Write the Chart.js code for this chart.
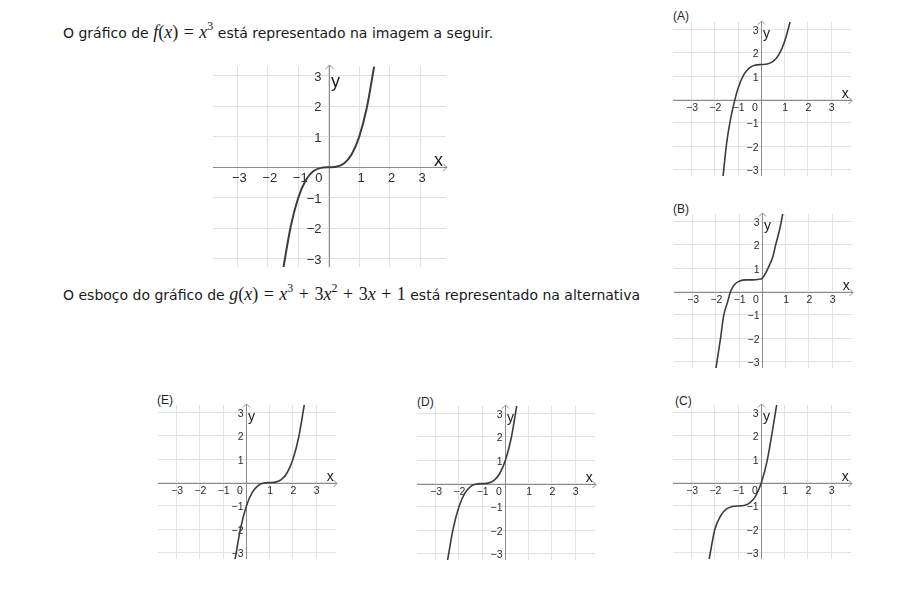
<!DOCTYPE html>
<html>
<head>
<meta charset="utf-8">
<script src="https://cdn.jsdelivr.net/npm/chart.js@4.4.1/dist/chart.umd.min.js"></script>
<style>
  body { margin: 0; width: 900px; height: 600px; background: #fff; position: relative; overflow: hidden;
         font-family: "DejaVu Sans", Verdana, sans-serif; color: #1a1a1a; }
  .txt { position: absolute; left: 63px; font-size: 14px; line-height: 18px; white-space: nowrap; }
  .m { font-family: "Liberation Serif", "DejaVu Serif", serif; font-size: 18px; }
  .m i { font-style: italic; }
  .op { margin: 0 1px; }
  sup { font-size: 12px; vertical-align: 0; position: relative; top: -8px; }
  .lbl { position: absolute; font-family: "Liberation Sans", Arial, sans-serif; font-size: 12px; line-height: 14px; color: #1c2333; }
  .panel { position: absolute; }
</style>
</head>
<body>
<div class="txt" style="top:23px">O gráfico de <span class="m"><i>f</i>(<i>x</i>) <span class="op">=</span> <i>x</i><sup>3</sup></span> está representado na imagem a seguir.</div>
<div class="txt" style="top:285px">O esboço do gráfico de <span class="m"><i>g</i>(<i>x</i>) <span class="op">=</span> <i>x</i><sup>3</sup> <span class="op">+</span> 3<i>x</i><sup>2</sup> <span class="op">+</span> 3<i>x</i> <span class="op">+</span> 1</span> está representado na alternativa</div>

<div class="lbl" style="left:673px;top:9px">(A)</div>
<div class="lbl" style="left:673px;top:202px">(B)</div>
<div class="lbl" style="left:675px;top:394px">(C)</div>
<div class="lbl" style="left:417px;top:395px">(D)</div>
<div class="lbl" style="left:157px;top:393px">(E)</div>

<script>
// eixos e rótulos comuns a todos os gráficos
const xTicks = [-3, -2, -1, 0, 1, 2, 3];
const yTicks = [-3, -2, -1, 1, 2, 3];
const xMin = -3.8, xMax = 3.85, yMin = -3.27, yMax = 3.32;

// f(x) = x^3 (gráfico principal)
const fX = [-1.49, -1.25, -1, -0.75, -0.5, -0.25, 0, 0.25, 0.5, 0.75, 1, 1.25, 1.49];
const fY = [-3.3, -1.95, -1, -0.42, -0.125, -0.02, 0, 0.02, 0.125, 0.42, 1, 1.95, 3.3];

// alternativa (A)
const aX = [-1.65, -1.5, -1.35, -1.14, -1, -0.75, -0.5, -0.25, 0, 0.25, 0.5, 0.75, 1, 1.24];
const aY = [-3.3, -1.9, -0.95, 0, 0.5, 1.08, 1.37, 1.48, 1.5, 1.52, 1.63, 1.92, 2.5, 3.35];

// alternativa (B)
const bX = [-2.0, -1.8, -1.66, -1.5, -1.37, -1.2, -1.0, -0.7, -0.4, -0.2, 0, 0.24, 0.45, 0.57, 0.75, 0.88];
const bY = [-3.3, -2.0, -1.0, -0.45, 0, 0.3, 0.44, 0.5, 0.5, 0.52, 0.58, 1.0, 1.5, 2.0, 2.7, 3.35];

// alternativa (C)
const cX = [-2.25, -2.0, -1.75, -1.5, -1.25, -1.0, -0.75, -0.5, -0.25, 0, 0.25, 0.5, 0.66];
const cY = [-3.3, -2.0, -1.42, -1.13, -1.02, -1.0, -0.98, -0.87, -0.58, 0, 0.95, 2.37, 3.35];

// alternativa (D)
const dX = [-2.49, -2.25, -2.0, -1.75, -1.5, -1.25, -1.0, -0.75, -0.5, -0.25, 0, 0.25, 0.49];
const dY = [-3.3, -1.95, -1, -0.42, -0.125, -0.02, 0, 0.02, 0.125, 0.42, 1, 1.95, 3.35];

// alternativa (E)
const eX = [-0.49, -0.25, 0, 0.25, 0.5, 0.75, 1, 1.25, 1.5, 1.75, 2, 2.25, 2.49];
const eY = [-3.3, -1.95, -1, -0.42, -0.125, -0.02, 0, 0.02, 0.125, 0.42, 1, 1.95, 3.35];

const PAD = 12;

const big = { unit: 30.5, tickFont: 13, axisFont: 18, curveWidth: 2, xLabDy: 11, xLabDx: 2, zeroDx: -10.7, yLabDx: -8, arrow: 4 };
const small = { unit: 23.3, tickFont: 10.5, axisFont: 14, curveWidth: 1.6, xLabDy: 7.5, xLabDx: 0.5, zeroDx: -6.7, yLabDx: -3, arrow: 3.5 };

const fmt = (v) => (v < 0 ? "\u2212" + Math.abs(v) : String(v));

const axesPlugin = (st) => ({
  id: "axes",
  beforeDatasetsDraw(chart) {
    const { ctx, chartArea: a, scales: { x, y } } = chart;
    const x0 = Math.round(x.getPixelForValue(0)) + 0.5;
    const y0 = Math.round(y.getPixelForValue(0)) + 0.5;
    ctx.save();
    ctx.strokeStyle = "#8c8c8c";
    ctx.lineWidth = 1;
    ctx.beginPath();
    ctx.moveTo(a.left, y0); ctx.lineTo(a.right + 1, y0);
    ctx.moveTo(x0, a.bottom); ctx.lineTo(x0, a.top - 1);
    // setas
    const s = st.arrow;
    ctx.moveTo(a.right + 1 - s, y0 - s); ctx.lineTo(a.right + 1, y0); ctx.lineTo(a.right + 1 - s, y0 + s);
    ctx.moveTo(x0 - s, a.top - 1 + s); ctx.lineTo(x0, a.top - 1); ctx.lineTo(x0 + s, a.top - 1 + s);
    ctx.stroke();

    ctx.fillStyle = "#2b2b2b";
    ctx.font = st.tickFont + 'px "Liberation Sans", Arial, sans-serif';
    ctx.textBaseline = "middle";
    ctx.textAlign = "center";
    xTicks.forEach((v) => {
      const px = v === 0 ? x0 + st.zeroDx : x.getPixelForValue(v) + st.xLabDx;
      ctx.fillText(fmt(v), px, y0 + st.xLabDy);
    });
    ctx.textAlign = "right";
    yTicks.forEach((v) => {
      ctx.fillText(fmt(v), x0 + st.yLabDx, y.getPixelForValue(v) + 1.5);
    });

    ctx.font = st.axisFont + 'px "Liberation Sans", Arial, sans-serif';
    ctx.textBaseline = "alphabetic";
    ctx.textAlign = "center";
    ctx.fillStyle = "#1a1a1a";
    ctx.fillText("x", x.getPixelForValue(3.6), y.getPixelForValue(0.05));
    ctx.fillText("y", x.getPixelForValue(0.22), y.getPixelForValue(2.64));
    ctx.restore();
  },
});

function makePanel(originX, originY, st, xs, ys) {
  const wrap = document.createElement("div");
  wrap.className = "panel";
  const canvas = document.createElement("canvas");
  canvas.width = Math.round((xMax - xMin) * st.unit + 2 * PAD);
  canvas.height = Math.round((yMax - yMin) * st.unit + 2 * PAD);
  wrap.appendChild(canvas);
  document.body.appendChild(wrap);

  const gridOpts = { color: "#e2e2e2", lineWidth: 1, drawTicks: false };
  const chart = new Chart(canvas.getContext("2d"), {
    type: "line",
    data: {
      datasets: [
        {
          data: xs.map((v, i) => ({ x: v, y: ys[i] })),
          borderColor: "#3c3c3c",
          borderWidth: st.curveWidth,
          pointRadius: 0,
          cubicInterpolationMode: "monotone",
          fill: false,
        },
      ],
    },
    options: {
      responsive: false,
      animation: false,
      events: [],
      layout: { padding: PAD },
      plugins: { legend: { display: false }, tooltip: { enabled: false } },
      scales: {
        x: {
          type: "linear", min: xMin, max: xMax,
          ticks: { display: false, stepSize: 1, includeBounds: false },
          grid: gridOpts, border: { display: false },
        },
        y: {
          type: "linear", min: yMin, max: yMax,
          ticks: { display: false, stepSize: 1, includeBounds: false },
          grid: gridOpts, border: { display: false },
        },
      },
    },
    plugins: [axesPlugin(st)],
  });

  wrap.style.left = originX - chart.scales.x.getPixelForValue(0) + "px";
  wrap.style.top = originY - chart.scales.y.getPixelForValue(0) + "px";
  return chart;
}

makePanel(329, 167.3, big, fX, fY);
makePanel(761.7, 99.3, small, aX, aY);
makePanel(762.7, 291.3, small, bX, bY);
makePanel(761.7, 482.7, small, cX, cY);
makePanel(505.7, 484, small, dX, dY);
makePanel(246, 482.7, small, eX, eY);
</script>
</body>
</html>
